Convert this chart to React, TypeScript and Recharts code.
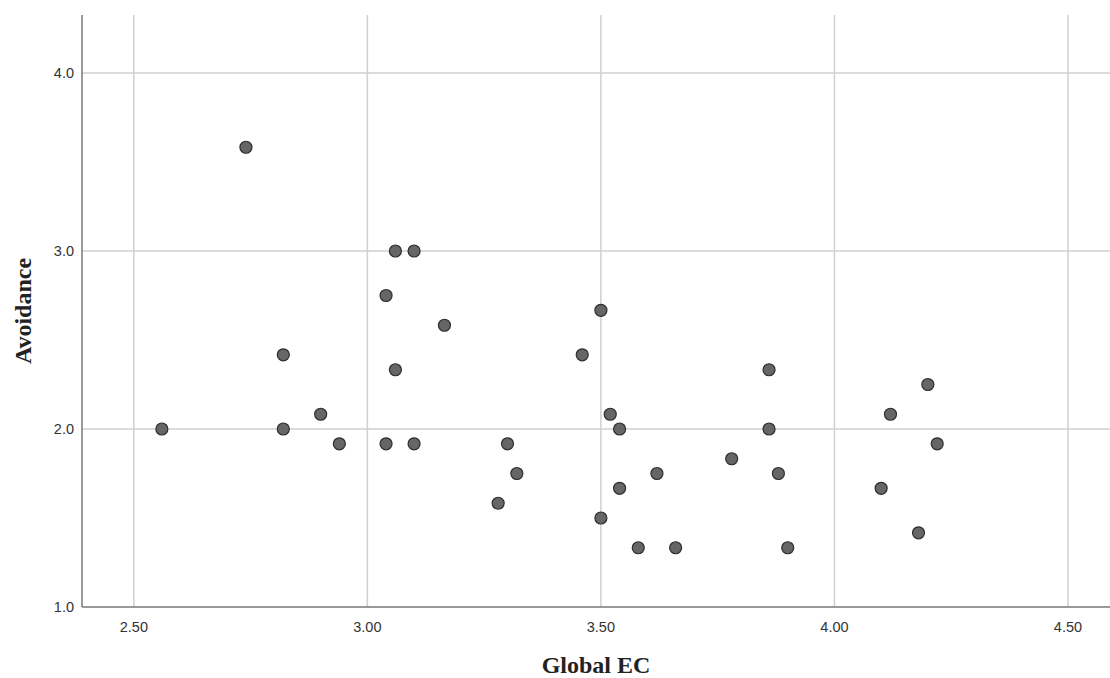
import { ScatterChart, Scatter, XAxis, YAxis, CartesianGrid, Label } from 'recharts';

// Global EC (x) and Avoidance (y), one entry per respondent
const globalEC = [
  2.56, 2.74, 2.82, 2.82, 2.90, 2.94, 3.04, 3.06, 3.10, 3.04,
  3.06, 3.10, 3.165, 3.28, 3.30, 3.32, 3.46, 3.50, 3.50, 3.52,
  3.54, 3.54, 3.58, 3.62, 3.66, 3.78, 3.86, 3.86, 3.88, 3.90,
  4.10, 4.12, 4.18, 4.20, 4.22,
];
const avoidance = [
  2.0, 3.583, 2.417, 2.0, 2.083, 1.917, 2.75, 3.0, 3.0, 1.917,
  2.333, 1.917, 2.583, 1.583, 1.917, 1.75, 2.417, 2.667, 1.5, 2.083,
  2.0, 1.667, 1.333, 1.75, 1.333, 1.833, 2.333, 2.0, 1.75, 1.333,
  1.667, 2.083, 1.417, 2.25, 1.917,
];
const xTicks = [2.5, 3.0, 3.5, 4.0, 4.5];
const yTicks = [1, 2, 3, 4];

const data = globalEC.map((x, i) => ({ x, y: avoidance[i] }));

const tickStyle = { fill: '#333', fontSize: 14.5, fontFamily: 'Liberation Sans, Arial, sans-serif' };
const titleFont = 'Liberation Serif, Times New Roman, serif';

function Dot(props: any) {
  const { cx, cy } = props;
  return <circle cx={cx} cy={cy} r={6} fill="#666" stroke="#2e2e2e" strokeWidth={1.2} />;
}

export default function App() {
  return (
    <div style={{ position: 'absolute', left: 0, top: 0, background: '#fff' }}>
      <ScatterChart width={1110} height={678} margin={{ top: 15, right: 0, bottom: 41, left: 22 }}>
        <CartesianGrid
          stroke="#cfcfcf"
          strokeWidth={1.5}
          horizontalValues={[2, 3, 4]}
          verticalValues={xTicks}
        />
        <XAxis
          type="number"
          dataKey="x"
          domain={[2.389, 4.59]}
          ticks={xTicks}
          tickFormatter={(v: number) => v.toFixed(2)}
          tick={tickStyle}
          tickLine={false}
          tickMargin={9}
          height={30}
          stroke="#777"
          strokeWidth={1.5}
        >
          <Label
            content={({ viewBox }: any) => (
              <text
                x={viewBox.x + viewBox.width / 2}
                y={viewBox.y + viewBox.height + 36}
                textAnchor="middle"
                fontFamily={titleFont}
                fontWeight="bold"
                fontSize={24}
                fill="#222"
              >
                Global EC
              </text>
            )}
          />
        </XAxis>
        <YAxis
          type="number"
          dataKey="y"
          domain={[1, 4.326]}
          ticks={yTicks}
          tickFormatter={(v: number) => v.toFixed(1)}
          tick={tickStyle}
          tickLine={false}
          width={60}
          stroke="#777"
          strokeWidth={1.5}
        >
          <Label
            content={({ viewBox }: any) => {
              const cx = viewBox.x + 1;
              const cy = viewBox.y + viewBox.height / 2;
              return (
                <text
                  x={cx}
                  y={cy}
                  transform={`rotate(-90 ${cx} ${cy})`}
                  textAnchor="middle"
                  dominantBaseline="central"
                  fontFamily={titleFont}
                  fontWeight="bold"
                  fontSize={24}
                  fill="#222"
                >
                  Avoidance
                </text>
              );
            }}
          />
        </YAxis>
        <Scatter data={data} shape={<Dot />} isAnimationActive={false} />
      </ScatterChart>
    </div>
  );
}
